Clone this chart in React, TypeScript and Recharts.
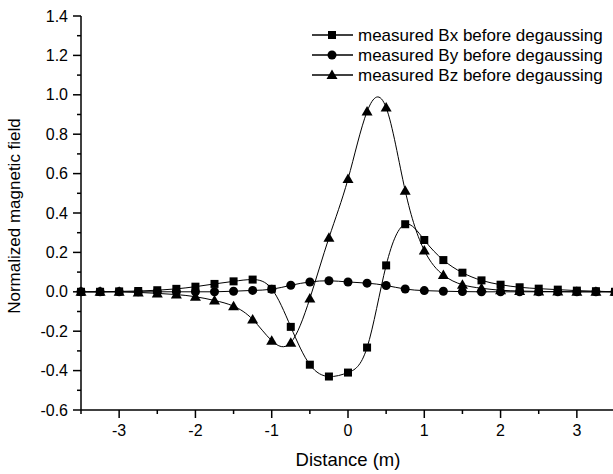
import React from 'react';
import { LineChart, Line, XAxis, YAxis, Label } from 'recharts';

const xValues = [-3.5, -3.25, -3, -2.75, -2.5, -2.25, -2, -1.75, -1.5, -1.25, -1, -0.75, -0.5, -0.25, 0, 0.25, 0.5, 0.75, 1, 1.25, 1.5, 1.75, 2, 2.25, 2.5, 2.75, 3, 3.25, 3.5];
const bxValues = [0, 0, 0.002, 0.004, 0.008, 0.015, 0.026, 0.04, 0.053, 0.062, 0.015, -0.178, -0.37, -0.43, -0.41, -0.283, 0.134, 0.343, 0.263, 0.161, 0.097, 0.058, 0.036, 0.023, 0.016, 0.011, 0.006, 0.003, 0];
const byValues = [0, 0, 0, 0, 0, 0, 0, 0, 0.003, 0.007, 0.013, 0.033, 0.05, 0.056, 0.05, 0.044, 0.032, 0.014, 0.006, 0.003, 0.001, 0, 0, 0, 0, 0, 0, 0, 0];
const bzValues = [0, 0, 0, -0.003, -0.008, -0.014, -0.025, -0.044, -0.073, -0.14, -0.248, -0.258, -0.034, 0.274, 0.572, 0.915, 0.935, 0.513, 0.21, 0.085, 0.036, 0.018, 0.008, 0.004, 0.002, 0.001, 0, 0, 0];

const seriesNames = ['measured Bx before degaussing', 'measured By before degaussing', 'measured Bz before degaussing'];

const xMajorTicks = [-3, -2, -1, 0, 1, 2, 3];
const xMinorTicks = [-3.5, -2.5, -1.5, -0.5, 0.5, 1.5, 2.5, 3.5];
const yMajorTicks = [-0.6, -0.4, -0.2, 0, 0.2, 0.4, 0.6, 0.8, 1.0, 1.2, 1.4];
const yMinorTicks = [-0.5, -0.3, -0.1, 0.1, 0.3, 0.5, 0.7, 0.9, 1.1, 1.3];

const xTitle = 'Distance (m)';
const yTitle = 'Normalized magnetic field';

const data = xValues.map((x, i) => ({ x, bx: bxValues[i], by: byValues[i], bz: bzValues[i] }));

const FONT = '"Liberation Sans", Arial, sans-serif';

const isMajor = (v: number, majors: number[]) => majors.some((m) => Math.abs(m - v) < 1e-6);

const XTick = (props: any) => {
  const { x, y, payload } = props;
  const v = payload.value;
  const axisY = y - 8;
  const major = isMajor(v, xMajorTicks);
  return (
    <g>
      <line x1={x} x2={x} y1={axisY} y2={axisY + (major ? 8 : 4)} stroke="#000" strokeWidth={1.5} />
      {major && (
        <text x={x} y={axisY + 15} dy="0.71em" textAnchor="middle" fontSize={16} fontFamily={FONT} fill="#000">
          {String(v)}
        </text>
      )}
    </g>
  );
};

const YTick = (props: any) => {
  const { x, y, payload } = props;
  const v = payload.value;
  const axisX = x + 8;
  const major = isMajor(v, yMajorTicks);
  return (
    <g>
      <line x1={axisX - (major ? 8 : 4)} x2={axisX} y1={y} y2={y} stroke="#000" strokeWidth={1.5} />
      {major && (
        <text x={axisX - 13} y={y} dy="0.355em" textAnchor="end" fontSize={16} fontFamily={FONT} fill="#000">
          {v.toFixed(1)}
        </text>
      )}
    </g>
  );
};

const XTitle = (props: any) => {
  const vb = props.viewBox || {};
  return (
    <text x={vb.x + vb.width / 2} y={vb.y + 56} textAnchor="middle" fontSize={18.5} fontFamily={FONT} fill="#000">
      {xTitle}
    </text>
  );
};

const YTitle = (props: any) => {
  const vb = props.viewBox || {};
  const cx = vb.x + 20;
  const cy = vb.y + vb.height / 2 + 3;
  return (
    <text x={cx} y={cy} transform={`rotate(-90 ${cx} ${cy})`} textAnchor="middle" fontSize={17} fontFamily={FONT} fill="#000">
      {yTitle}
    </text>
  );
};

const SquareDot = (props: any) => {
  const { cx, cy, index } = props;
  if (cx == null || cy == null) return <g key={`s${index}`} />;
  return <rect key={`s${index}`} x={cx - 4} y={cy - 4} width={8} height={8} fill="#000" />;
};
const CircleDot = (props: any) => {
  const { cx, cy, index } = props;
  if (cx == null || cy == null) return <g key={`c${index}`} />;
  return <circle key={`c${index}`} cx={cx} cy={cy} r={4.5} fill="#000" />;
};
const TriangleDot = (props: any) => {
  const { cx, cy, index } = props;
  if (cx == null || cy == null) return <g key={`t${index}`} />;
  return <path key={`t${index}`} d={`M${cx},${cy - 5.5}L${cx + 5.5},${cy + 4}L${cx - 5.5},${cy + 4}Z`} fill="#000" />;
};

const legendMarkers = [
  (cx: number, cy: number) => <rect x={cx - 4} y={cy - 4} width={8} height={8} fill="#000" />,
  (cx: number, cy: number) => <circle cx={cx} cy={cy} r={4.5} fill="#000" />,
  (cx: number, cy: number) => <path d={`M${cx},${cy - 5.5}L${cx + 5.5},${cy + 4}L${cx - 5.5},${cy + 4}Z`} fill="#000" />,
];

export default function App() {
  return (
    <div style={{ position: 'fixed', left: 0, top: 0, width: 613, height: 474, overflow: 'hidden', background: '#fff' }}>
      <LineChart width={622} height={474} data={data} margin={{ top: 16, right: 7, left: 0, bottom: 0 }}>
        <XAxis
          dataKey="x"
          type="number"
          domain={[-3.5, 3.5]}
          ticks={[...xMinorTicks, ...xMajorTicks].sort((a, b) => a - b)}
          interval={0}
          height={64}
          tickSize={8}
          tickMargin={0}
          tickLine={false}
          tick={<XTick />}
          axisLine={{ stroke: '#000', strokeWidth: 1.5 }}
        >
          <Label content={<XTitle />} />
        </XAxis>
        <YAxis
          type="number"
          domain={[-0.6, 1.4]}
          ticks={[...yMinorTicks, ...yMajorTicks].sort((a, b) => a - b)}
          interval={0}
          width={81}
          tickSize={8}
          tickMargin={0}
          tickLine={false}
          tick={<YTick />}
          axisLine={{ stroke: '#000', strokeWidth: 1.5 }}
        >
          <Label content={<YTitle />} />
        </YAxis>
        <Line type="natural" dataKey="bx" stroke="#000" strokeWidth={1} dot={SquareDot} isAnimationActive={false} />
        <Line type="natural" dataKey="by" stroke="#000" strokeWidth={1} dot={CircleDot} isAnimationActive={false} />
        <Line type="natural" dataKey="bz" stroke="#000" strokeWidth={1} dot={TriangleDot} isAnimationActive={false} />
      </LineChart>
      <svg width={613} height={100} style={{ position: 'absolute', left: 0, top: 0, pointerEvents: 'none' }}>
        {seriesNames.map((name, i) => {
          const cy = 35 + i * 20;
          return (
            <g key={name}>
              <line x1={312} x2={353} y1={cy} y2={cy} stroke="#000" strokeWidth={1.3} />
              {legendMarkers[i](332, cy)}
              <text x={358} y={cy} dy="0.355em" fontSize={17} fontFamily={FONT} fill="#000">
                {name}
              </text>
            </g>
          );
        })}
      </svg>
    </div>
  );
}
